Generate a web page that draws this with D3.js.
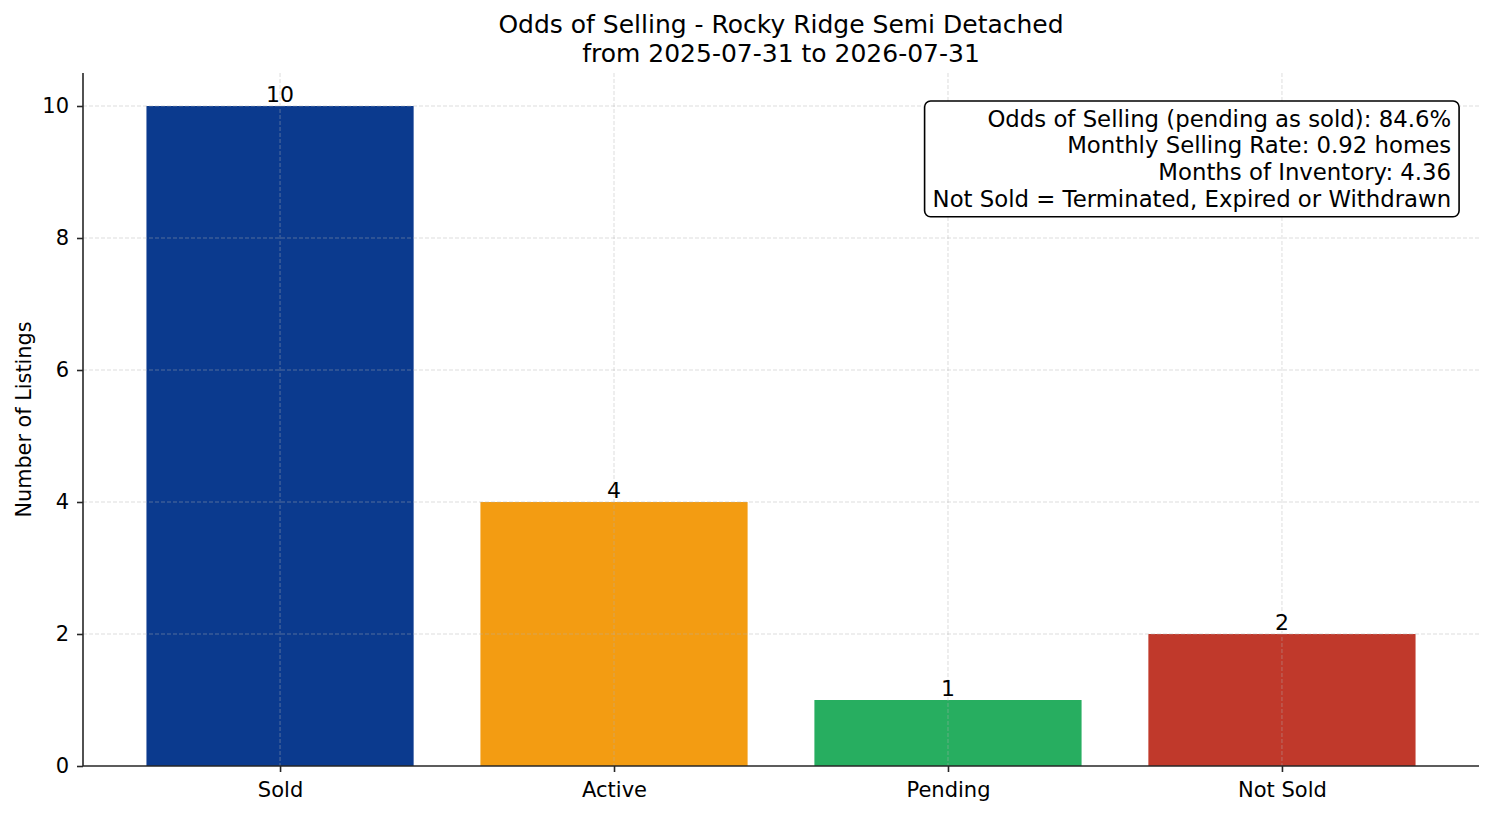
<!DOCTYPE html>
<html>
<head>
<meta charset="utf-8">
<script src="https://cdn.jsdelivr.net/npm/d3@7"></script>
<style>
  body { margin: 0; background: #fff; }
  svg { font-family: "DejaVu Sans", sans-serif; }
</style>
</head>
<body>
<div id="chart"></div>
<script>
const categories = ["Sold", "Active", "Pending", "Not Sold"];
const counts = [10, 4, 1, 2];
const barColors = ["#0B3A8E", "#F39C12", "#27AE60", "#C0392B"];
const yTicks = [0, 2, 4, 6, 8, 10];
const titleLines = ["Odds of Selling - Rocky Ridge Semi Detached", "from 2025-07-31 to 2026-07-31"];
const infoLines = [
    "Odds of Selling (pending as sold): 84.6%",
    "Monthly Selling Rate: 0.92 homes",
    "Months of Inventory: 4.36",
    "Not Sold = Terminated, Expired or Withdrawn"
];

let width = 1494, height = 816;
let margin = { top: 73, right: 15, bottom: 50, left: 83 };
let iw = width - margin.left - margin.right;
let ih = height - margin.top - margin.bottom;

let svg = d3.select("#chart").append("svg").attr("width", width).attr("height", height);
let g = svg.append("g").attr("transform", `translate(${margin.left},${margin.top})`);

// bars sit at 0..3 with width 0.8, plus 5% side margins like matplotlib
let x = d3.scaleLinear().domain([-0.59, 3.59]).range([0, iw]);
let y = d3.scaleLinear().domain([0, 10.5]).range([ih, 0]);

// bars
g.selectAll("rect.bar").data(counts).join("rect")
    .attr("class", "bar")
    .attr("x", (d, i) => x(i - 0.4))
    .attr("width", (d, i) => x(i + 0.4) - x(i - 0.4))
    .attr("y", d => y(d))
    .attr("height", d => y(0) - y(d))
    .attr("fill", (d, i) => barColors[i]);

// grid drawn over the bars
let grid = g.append("g").attr("stroke", "#b0b0b0").attr("stroke-opacity", 0.55)
    .attr("stroke-width", 0.8).attr("stroke-dasharray", "4,2");
grid.selectAll("line.h").data(yTicks.slice(1)).join("line")
    .attr("x1", 0).attr("x2", iw).attr("y1", d => y(d)).attr("y2", d => y(d));
grid.selectAll("line.v").data(categories).join("line")
    .attr("x1", (d, i) => x(i)).attr("x2", (d, i) => x(i)).attr("y1", 0).attr("y2", ih);

// axes
let yAxis = g.append("g")
    .call(d3.axisLeft(y).tickValues(yTicks).tickFormat(d3.format("d")).tickSize(6).tickPadding(8));
let xAxis = g.append("g").attr("transform", `translate(0,${ih})`)
    .call(d3.axisBottom(x).tickValues(d3.range(categories.length)).tickFormat(i => categories[i]).tickSize(6).tickPadding(10));
[xAxis, yAxis].forEach(a => {
    a.select(".domain").attr("stroke", "#262626").attr("stroke-width", 1.6);
    a.selectAll(".tick line").attr("stroke", "#262626").attr("stroke-width", 1.6);
    a.selectAll(".tick text").attr("fill", "#000").attr("font-size", "21px").attr("font-family", "DejaVu Sans");
});
yAxis.select(".domain").attr("d", `M0,${ih}V0`);
xAxis.select(".domain").attr("d", `M0,0H${iw}`);

// value labels
g.selectAll("text.val").data(counts).join("text")
    .attr("class", "val")
    .attr("x", (d, i) => x(i))
    .attr("y", d => y(d) - 4)
    .attr("text-anchor", "middle")
    .attr("font-size", "22px")
    .text(d => d);

// y label
svg.append("text")
    .attr("transform", `translate(31,${margin.top + ih / 2}) rotate(-90)`)
    .attr("text-anchor", "middle")
    .attr("font-size", "20.8px")
    .text("Number of Listings");

// title
svg.append("g").selectAll("text").data(titleLines).join("text")
    .attr("x", margin.left + iw / 2)
    .attr("y", (d, i) => 33 + i * 29)
    .attr("text-anchor", "middle")
    .attr("font-size", "25px")
    .text(d => d);

// info box
let lineGap = 26.7;
let firstBase = ih * 0.05 + 19;
let box = g.append("g");
let boxRect = box.append("rect");
let info = box.append("g");
info.selectAll("text").data(infoLines).join("text")
    .attr("x", iw * 0.98)
    .attr("y", (d, i) => firstBase + i * lineGap)
    .attr("text-anchor", "end")
    .attr("font-size", "22.8px")
    .text(d => d);
let bb = info.node().getBBox();
let boxTop = firstBase - 25.7;
let boxBottom = firstBase + (infoLines.length - 1) * lineGap + 10;
boxRect.attr("x", bb.x - 8).attr("y", boxTop)
    .attr("width", bb.width + 16).attr("height", boxBottom - boxTop)
    .attr("rx", 6).attr("ry", 6)
    .attr("fill", "#fff").attr("stroke", "#000").attr("stroke-width", 1.6);
</script>
</body>
</html>
